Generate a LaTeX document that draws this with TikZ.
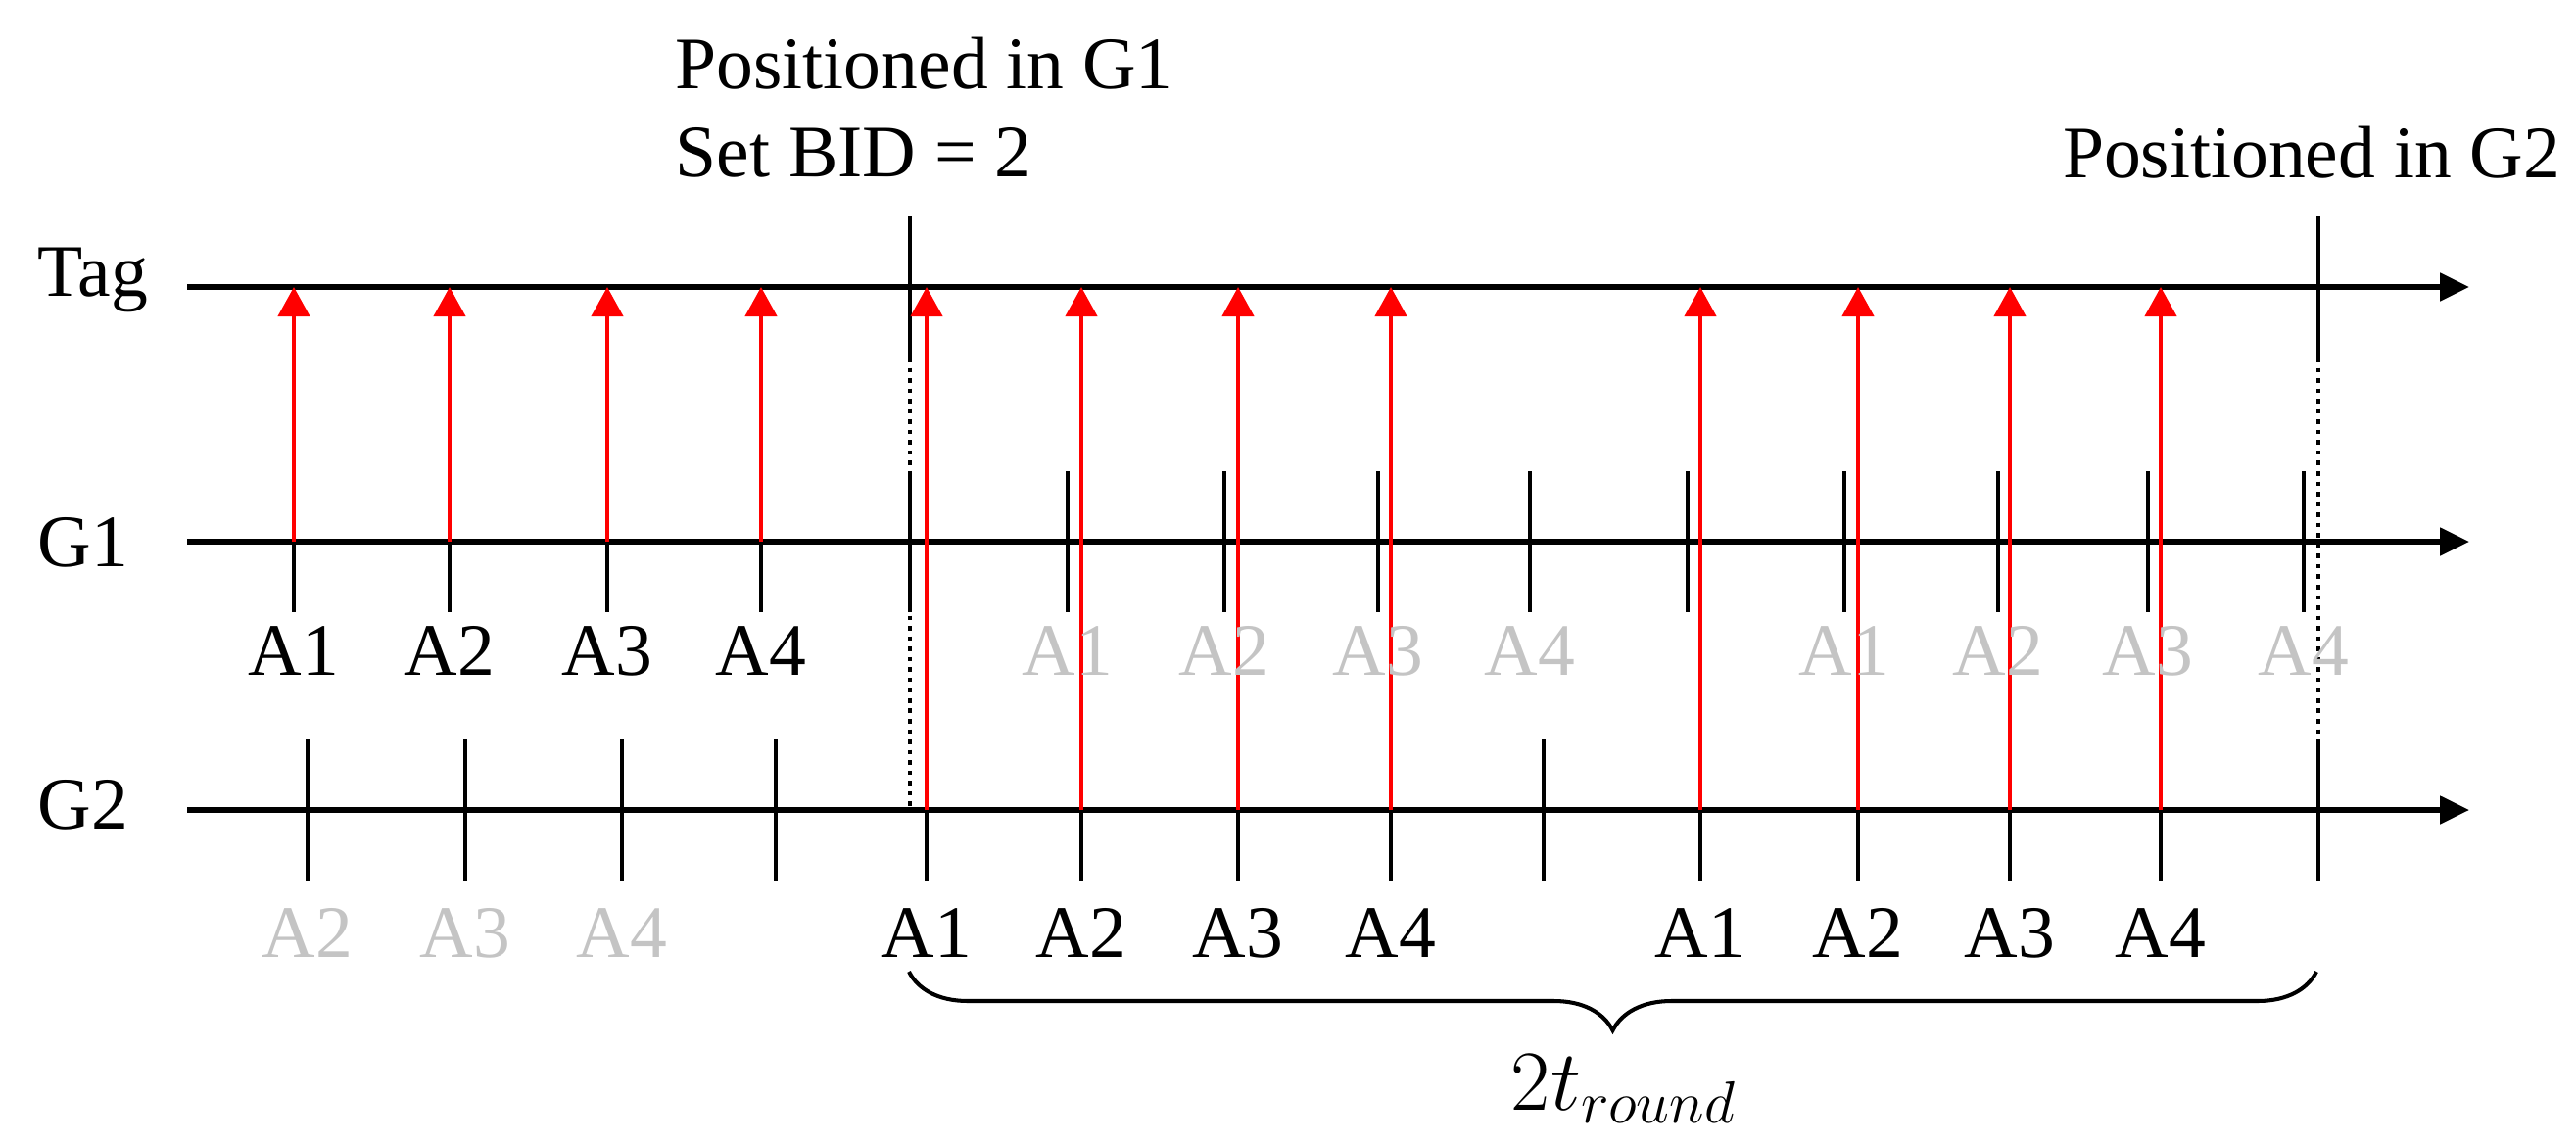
\documentclass[tikz,border=0pt]{standalone}
\usepackage{fontspec}
\setmainfont{Liberation Serif}
\usetikzlibrary{arrows.meta,decorations.pathreplacing}
\definecolor{fadedgray}{RGB}{196,196,196}
\tikzset{
  timeaxis/.style={line width=1.45pt,-{Triangle[length=0.3cm,width=0.28cm]}},
  tickmark/.style={line width=1.15pt},
  sendarrow/.style={red,line width=1.15pt,-{Triangle[length=0.3cm,width=0.32cm]}},
  guide/.style={line width=1.15pt,dash pattern=on 1.3pt off 1.7pt},
  lbl/.style={font=\fontsize{21.5}{25.6}\selectfont,inner sep=0pt},
  fadedlbl/.style={lbl,text=fadedgray},
}

\begin{document}
\begin{tikzpicture}
\useasboundingbox (0,0) rectangle (26.3,11.68);

% draw axes

\foreach \row/\y in {tag/8.75,gone/6.15,gtwo/3.41}{
  \coordinate (\row start) at (1.91,\y);
  \coordinate (\row end) at (25.21,\y);
  \draw[timeaxis] (\row start) -- (\row end);
}
\node[lbl,anchor=base west] (taglbl) at (0.38,8.66) {Tag};
\node[lbl,anchor=base west] (gonelbl) at (0.38,5.90) {G1};
\node[lbl,anchor=base west] (gtwolbl) at (0.38,3.22) {G2};

% ticks on G1 and G2

\foreach \x [count=\i] in {3.00,4.59,6.20,7.77,9.29,10.90,12.50,14.07,15.62,17.23,18.83,20.40,21.93,23.52}
  \draw[tickmark] (\x,6.87) coordinate (gtop\i) -- (\x,5.43) coordinate (gbot\i);
\foreach \x [count=\i] in {3.14,4.75,6.35,7.92,9.46,11.04,12.64,14.20,15.76,17.36,18.97,20.52,22.06,23.67}
  \draw[tickmark] (\x,4.13) coordinate (htop\i) -- (\x,2.69) coordinate (hbot\i);

% beacon switch marks on the tag axis

\draw[tickmark] (9.29,9.47) coordinate (swa) -- (9.29,8.03) coordinate (swabot);
\draw[tickmark] (23.67,9.47) coordinate (swb) -- (23.67,8.03) coordinate (swbbot);
\coordinate (swaend) at (9.29,3.41);
\draw[guide] (swabot) -- (swaend);
\draw[guide] (swbbot) -- (htop14);

% ranging messages to the tag

\foreach \i in {1,...,4}
  \draw[sendarrow] (gtop\i |- gonestart) -- (gtop\i |- tagstart);
\foreach \i in {5,...,8,10,11,12,13}
  \draw[sendarrow] (htop\i |- gtwostart) -- (htop\i |- tagstart);

% anchor labels

\foreach \i/\t in {1/A1,2/A2,3/A3,4/A4}
  \node[lbl,anchor=base] (gname\i) at (gbot\i |- 0,4.79) {\t};
\foreach \i/\t in {6/A1,7/A2,8/A3,9/A4,11/A1,12/A2,13/A3,14/A4}
  \node[fadedlbl,anchor=base] (gname\i) at (gbot\i |- 0,4.79) {\t};
\foreach \i/\t in {1/A2,2/A3,3/A4}
  \node[fadedlbl,anchor=base] (hname\i) at (hbot\i |- 0,1.91) {\t};
\foreach \i/\t in {5/A1,6/A2,7/A3,8/A4,10/A1,11/A2,12/A3,13/A4}
  \node[lbl,anchor=base] (hname\i) at (hbot\i |- 0,1.91) {\t};

% events

\node[lbl,align=left,anchor=north west] (posone) at (6.89,11.31) {Positioned in G1\\Set BID = 2};
\node[lbl,anchor=base] (postwo) at (23.60,9.86) {Positioned in G2};

% round time

\coordinate (brl) at (9.28,1.76);
\coordinate (brr) at (23.65,1.76);
\draw[line width=1.15pt,decorate,decoration={brace,mirror,amplitude=0.6cm}] (brl) -- (brr);
\node[lbl,font=\fontsize{24.5}{29}\selectfont,anchor=base] (tround) at (16.58,0.35) {$2t_{round}$};

\end{tikzpicture}
\end{document}
